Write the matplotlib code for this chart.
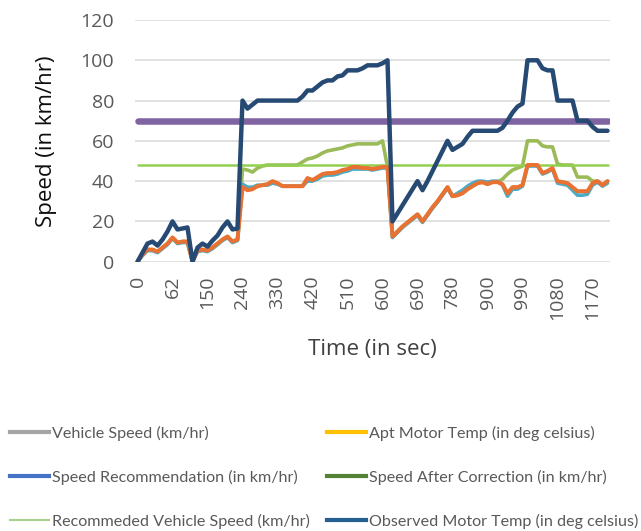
import matplotlib
matplotlib.use("Agg")
import matplotlib.pyplot as plt
from matplotlib.lines import Line2D

# x axis categories (time in sec), labels shown every 7th point
n_points = 95
tick_labels = ["0", "62", "150", "240", "330", "420", "510", "600",
               "690", "780", "900", "990", "1080", "1170"]

observed_temp = [0, 4.5, 9, 10, 8, 11, 15, 20, 16, 16.5, 17, 0, 7, 9, 7.5, 10.5, 13, 17, 20, 16,
                 16.5, 80, 76, 78, 80, 80, 80, 80, 80, 80, 80, 80, 80, 82, 85, 85, 87, 89, 90, 90,
                 92, 92.5, 95, 95, 95, 96, 97.5, 97.5, 97.5, 98.5, 100, 20, 24, 28, 32, 36, 40, 35.5, 40, 45,
                 50, 55, 60, 55.5, 57, 58.5, 62, 65, 65, 65, 65, 65, 65, 66.5, 70, 74, 77, 78.5, 100, 100,
                 100, 96, 95, 95, 80, 80, 80, 80, 70, 70, 70, 67, 65, 65, 65]

vehicle_speed = [0, 3.5, 6, 6, 5, 7, 9, 12, 9.5, 10, 10, 0, 5.5, 6, 5.5, 7, 9, 11, 12.5, 10,
                 11, 37, 35.5, 36, 37.5, 38, 38.5, 40, 39, 37.5, 37.5, 37.5, 37.5, 37.5, 41.5, 40.5, 42, 43.5, 44, 44,
                 44.5, 45.5, 46, 47, 47, 46.5, 46.5, 46, 46.5, 47, 47, 12.5, 15, 17.5, 19.5, 21.5, 23.5, 20, 23.5, 27,
                 30, 33.5, 37, 32.5, 33, 34, 36, 37.5, 39, 39.5, 38.5, 39.5, 39.5, 38.5, 34, 37, 37, 38, 48, 48,
                 48, 44, 45, 46.5, 40, 39.5, 39, 37, 35, 35, 35, 39, 40, 38, 40]

speed_recommendation = [0, 3, 5.5, 5.5, 4.5, 6.5, 8.5, 11.5, 9, 9.5, 9.5, 0, 5, 5.5, 5, 6.5, 8.5, 10.5, 12, 9.5,
                        10.5, 38.5, 37, 37, 38, 38, 38, 39, 38.5, 37.5, 37.5, 37.5, 37.5, 37.5, 40, 40, 41, 42.5, 43, 43,
                        43.5, 44.5, 45, 46, 46, 46, 46, 45.5, 46, 46.5, 46.5, 12, 14.5, 17, 19, 21, 23, 19.5, 23, 26.5,
                        29.5, 33, 36.5, 32.5, 34, 35.5, 37.5, 39, 40, 40, 39.5, 40, 40, 38, 32.5, 36, 36, 37.5, 47.5, 47.5,
                        47.5, 43.5, 44.5, 46, 39, 38.5, 38, 35.5, 33, 33, 33.5, 38, 39.5, 37.5, 39]

speed_after_correction = [0, 3.5, 6, 6, 5, 7, 9, 12, 9.5, 10, 10, 0, 5.5, 6, 5.5, 7, 9, 11, 12.5, 10,
                          11, 46, 45.5, 44.5, 46.5, 47.5, 48, 48, 48, 48, 48, 48, 48, 49.5, 51, 51.5, 52.5, 54, 55, 55.5,
                          56, 56.5, 57.5, 58, 58.5, 58.5, 58.5, 58.5, 58.5, 60, 47, 12.5, 15, 17.5, 19.5, 21.5, 23.5, 20, 23.5, 27,
                          30, 33.5, 37, 32.5, 33, 34, 36, 37.5, 39, 39.5, 38.5, 39.5, 39.5, 41, 43.5, 45.5, 46.5, 47.5, 60, 60,
                          60, 57.5, 57, 57, 48.5, 48, 48, 48, 42, 42, 42, 40, 40, 38, 40]

speed_limit = [70] * n_points
recommended_speed = [48] * n_points

# legend entries (as shown in the reference)
legend_col1 = [("Vehicle Speed (km/hr)", "#A5A5A5", 3.0),
               ("Speed Recommendation (in km/hr)", "#4472C4", 3.0),
               ("Recommeded Vehicle Speed (km/hr)", "#A9D18E", 1.5)]
legend_col2 = [("Apt Motor Temp (in deg celsius)", "#FFC000", 3.0),
               ("Speed After Correction (in km/hr)", "#548235", 3.0),
               ("Observed Motor Temp (in deg celsius)", "#255E91", 3.0)]

W, H = 641, 531
fig = plt.figure(figsize=(W / 100, H / 100), dpi=100)
ax = fig.add_axes([135 / W, 1 - 261.7 / H, 475 / W, 241.7 / H])

x = list(range(n_points))
style = dict(solid_capstyle="round", solid_joinstyle="round")
ax.plot(x, speed_limit, color="#8064A2", lw=4.7, zorder=2, **style)
ax.plot(x, speed_after_correction, color="#9BBB59", lw=2.6, zorder=3, **style)
ax.plot(x, recommended_speed, color="#92D050", lw=1.8, zorder=4, **style)
ax.plot(x, speed_recommendation, color="#4BACC6", lw=2.6, zorder=5, **style)
ax.plot(x, vehicle_speed, color="#E97132", lw=2.9, zorder=6, **style)
ax.plot(x, observed_temp, color="#264A73", lw=3.2, zorder=7, **style)

ax.set_xlim(-0.5, n_points - 0.5)
ax.set_ylim(0, 120)
ax.set_yticks(range(0, 121, 20))
ax.set_xticks(range(0, 7 * len(tick_labels), 7))
ax.set_xticklabels(tick_labels, rotation=90)
ax.grid(axis="y", color="#D9D9D9", lw=1.1)
ax.set_axisbelow(True)
for s in ax.spines.values():
    s.set_visible(False)
ax.tick_params(length=0, labelsize=14, labelcolor="#595959")
ax.tick_params(axis="y", pad=15)
ax.tick_params(axis="x", pad=10)
for lab in ax.get_xticklabels() + ax.get_yticklabels():
    lab.set_family("Open Sans")

ax.set_ylabel("Speed (in km/hr)", fontsize=16, color="#0D0D0D", family="Open Sans")
ax.yaxis.set_label_coords(-0.164, 0.5)
ax.set_xlabel("Time (in sec)", fontsize=16, color="#404040", family="Open Sans")
ax.xaxis.set_label_coords(0.5, -0.32)

legend_font = {"family": ["Lato", "DejaVu Sans"], "size": 11.6}
for entries, x0 in [(legend_col1, 10 / W), (legend_col2, 327 / W)]:
    handles = [Line2D([], [], color=c, lw=lw) for _, c, lw in entries]
    labels = [t for t, _, _ in entries]
    leg = fig.legend(handles, labels, loc="upper left", bbox_to_anchor=(x0, 1 - 426 / H),
                     frameon=False, prop=legend_font, handlelength=2.45, handletextpad=0.15,
                     labelspacing=1.78, borderpad=0, borderaxespad=0)
    for t in leg.get_texts():
        t.set_color("#595959")

fig.savefig("out.png", dpi=100)
